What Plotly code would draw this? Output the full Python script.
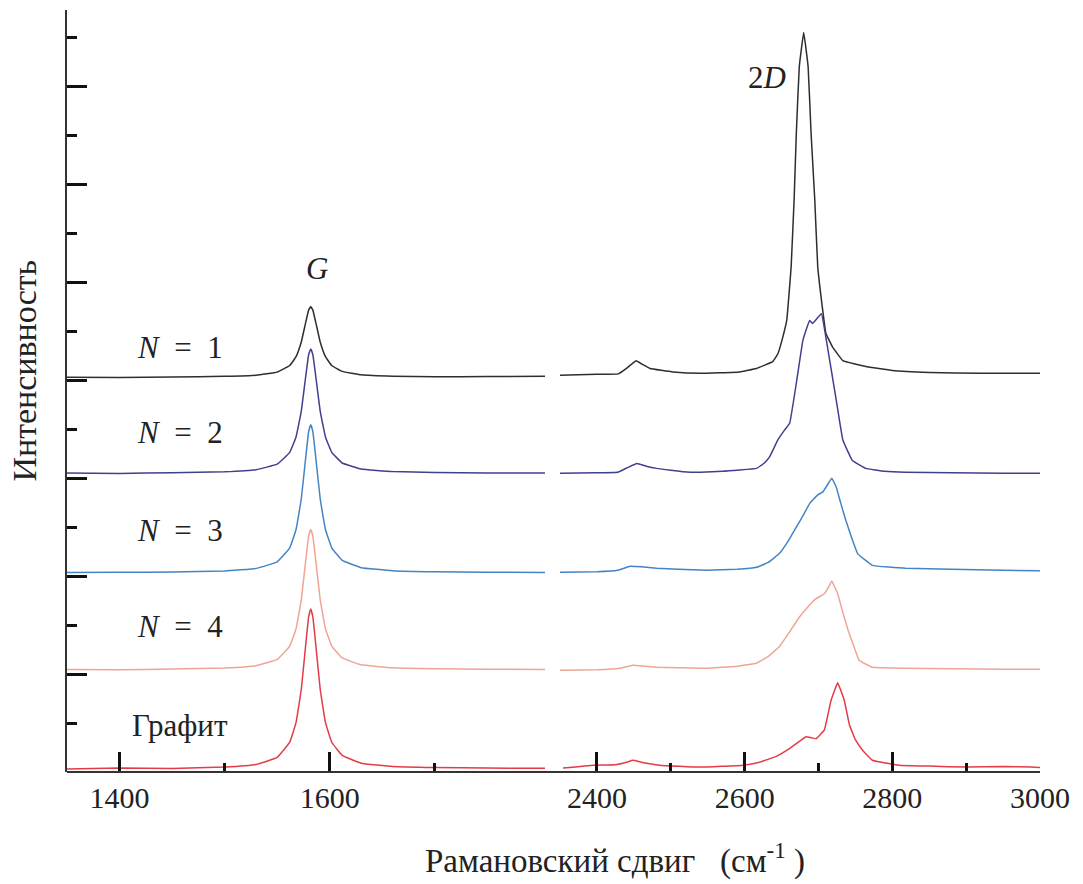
import plotly.graph_objects as go

# ---------------- data ----------------
# Left segment (G band region), shared x grid, cm^-1
x_left = [1350, 1400, 1450, 1500, 1530, 1550, 1562, 1568, 1573, 1577, 1580, 1582,
          1584, 1587, 1591, 1596, 1602, 1612, 1630, 1660, 1700, 1750, 1805]

n1_left = [4.031, 4.028, 4.033, 4.040, 4.051, 4.083, 4.151, 4.240, 4.390, 4.580, 4.716, 4.750,
           4.716, 4.580, 4.390, 4.240, 4.151, 4.090, 4.055, 4.040, 4.035, 4.038, 4.040]
n2_left = [3.052, 3.048, 3.056, 3.065, 3.087, 3.143, 3.263, 3.421, 3.685, 4.020, 4.260, 4.320,
           4.260, 4.020, 3.685, 3.421, 3.263, 3.155, 3.093, 3.067, 3.058, 3.054, 3.052]
n3_left = [2.037, 2.039, 2.042, 2.053, 2.079, 2.145, 2.289, 2.476, 2.790, 3.189, 3.474, 3.545,
           3.474, 3.189, 2.790, 2.476, 2.289, 2.160, 2.086, 2.055, 2.044, 2.040, 2.037]
n4_left = [1.047, 1.044, 1.052, 1.062, 1.086, 1.149, 1.285, 1.463, 1.760, 2.138, 2.408, 2.475,
           2.408, 2.138, 1.760, 1.463, 1.285, 1.164, 1.094, 1.064, 1.054, 1.049, 1.047]
gr_left = [0.030, 0.042, 0.036, 0.050, 0.077, 0.149, 0.304, 0.506, 0.845, 1.275, 1.583, 1.665,
           1.583, 1.275, 0.845, 0.506, 0.304, 0.170, 0.090, 0.056, 0.045, 0.040, 0.038]

# Right segment (2D band region)
n1_right_x = [2350, 2400, 2429, 2440, 2453, 2462, 2472, 2503, 2540, 2593, 2616, 2638, 2645, 2651,
              2657, 2663, 2667, 2670, 2674, 2680, 2686, 2690, 2695, 2699, 2705, 2710, 2719, 2733,
              2764, 2800, 2850, 2920, 3000]
n1_right_y = [4.05, 4.06, 4.065, 4.12, 4.20, 4.16, 4.12, 4.085, 4.07, 4.085, 4.12, 4.19, 4.27, 4.42,
              4.61, 5.16, 5.84, 6.52, 7.20, 7.55, 7.20, 6.52, 5.84, 5.16, 4.76, 4.48, 4.34, 4.20,
              4.14, 4.10, 4.08, 4.07, 4.07]

n2_right_x = [2350, 2400, 2428, 2442, 2454, 2468, 2481, 2500, 2526, 2570, 2616, 2626, 2634, 2645,
              2654, 2661, 2670, 2679, 2688, 2692, 2698, 2704, 2710, 2717, 2724, 2733, 2746, 2764,
              2790, 2818, 2880, 2950, 3000]
n2_right_y = [3.05, 3.055, 3.06, 3.11, 3.15, 3.12, 3.10, 3.08, 3.06, 3.07, 3.10, 3.15, 3.22, 3.39,
              3.49, 3.56, 3.97, 4.41, 4.61, 4.58, 4.63, 4.68, 4.44, 4.12, 3.80, 3.39, 3.18, 3.10,
              3.07, 3.06, 3.055, 3.05, 3.05]

n3_right_x = [2350, 2400, 2428, 2445, 2460, 2481, 2510, 2548, 2590, 2616, 2632, 2647, 2660, 2670,
              2680, 2688, 2699, 2706, 2712, 2718, 2724, 2730, 2737, 2745, 2753, 2773, 2818, 2880,
              2950, 3000]
n3_right_y = [2.04, 2.045, 2.06, 2.10, 2.095, 2.08, 2.07, 2.06, 2.07, 2.09, 2.14, 2.23, 2.37, 2.50,
              2.63, 2.74, 2.83, 2.86, 2.93, 3.00, 2.91, 2.75, 2.57, 2.39, 2.23, 2.11, 2.08, 2.07,
              2.06, 2.055]

n4_right_x = [2350, 2400, 2431, 2449, 2465, 2481, 2510, 2548, 2590, 2616, 2632, 2647, 2660, 2674,
              2685, 2695, 2708, 2713, 2718, 2726, 2733, 2740, 2748, 2755, 2773, 2818, 2880, 2950,
              3000]
n4_right_y = [1.04, 1.045, 1.06, 1.09, 1.08, 1.07, 1.065, 1.06, 1.08, 1.11, 1.18, 1.28, 1.42, 1.58,
              1.68, 1.76, 1.82, 1.88, 1.95, 1.82, 1.63, 1.45, 1.28, 1.14, 1.07, 1.06, 1.055, 1.05,
              1.05]

gr_right_x = [2354, 2395, 2425, 2440, 2449, 2460, 2485, 2539, 2598, 2620, 2643, 2657, 2670, 2683,
              2690, 2697, 2708, 2717, 2726, 2735, 2742, 2750, 2760, 2773, 2809, 2850, 2900, 2950,
              2989, 3000]
gr_right_y = [0.04, 0.07, 0.075, 0.10, 0.12, 0.10, 0.07, 0.05, 0.07, 0.10, 0.16, 0.22, 0.29, 0.36,
              0.35, 0.34, 0.43, 0.73, 0.91, 0.73, 0.48, 0.33, 0.22, 0.12, 0.07, 0.06, 0.05, 0.055,
              0.05, 0.045]

series_names = ["N = 1", "N = 2", "N = 3", "N = 4", "Графит"]
series_colors = ["#2e2e2e", "#40408e", "#4584c4", "#f0a494", "#e33b47"]
label_text = ["<i>N</i>&nbsp; =&nbsp; 1", "<i>N</i>&nbsp; =&nbsp; 2", "<i>N</i>&nbsp; =&nbsp; 3",
              "<i>N</i>&nbsp; =&nbsp; 4", "Графит"]
label_y = [4.33, 3.47, 2.47, 1.49, 0.47]

left_vals = [n1_left, n2_left, n3_left, n4_left, gr_left]
right_xs = [n1_right_x, n2_right_x, n3_right_x, n4_right_x, gr_right_x]
right_ys = [n1_right_y, n2_right_y, n3_right_y, n4_right_y, gr_right_y]

x_major_left = [1400, 1600]
x_minor_left = [1500, 1700]
x_major_right = [2400, 2600, 2800, 3000]
x_minor_right = [2500, 2700, 2900]

FONT = '"Liberation Serif", "DejaVu Serif", "Times New Roman", Times, serif'

fig = go.Figure()
for name, col, yl, xr, yr in zip(series_names, series_colors, left_vals, right_xs, right_ys):
    fig.add_trace(go.Scatter(x=x_left, y=yl, mode="lines", name=name,
                             line=dict(color=col, width=1.5, shape="spline", smoothing=0.3),
                             xaxis="x", yaxis="y", showlegend=False))
    fig.add_trace(go.Scatter(x=xr, y=yr, mode="lines", name=name,
                             line=dict(color=col, width=1.5, shape="spline", smoothing=0.25),
                             xaxis="x2", yaxis="y", showlegend=False))

axis_common = dict(showgrid=False, zeroline=False, showline=False,
                   ticks="inside", ticklen=20, tickwidth=2.5, tickcolor="#111",
                   tickfont=dict(family=FONT, size=30, color="#222"),
                   ticklabelstandoff=5)

fig.update_layout(
    width=1083, height=884,
    paper_bgcolor="white", plot_bgcolor="white",
    font=dict(family=FONT, color="#222"),
    margin=dict(l=67, r=43, t=10, b=112),
    xaxis=dict(domain=[0, 0.4913], range=[1350, 1805], tickmode="array",
               tickvals=x_major_left, ticktext=[str(v) for v in x_major_left],
               minor=dict(tickmode="array", tickvals=x_minor_left, ticks="inside",
                          ticklen=9, tickwidth=2.5, tickcolor="#111"),
               anchor="y", **axis_common),
    xaxis2=dict(domain=[0.5067, 1], range=[2350, 3000], tickmode="array",
                tickvals=x_major_right, ticktext=[str(v) for v in x_major_right],
                minor=dict(tickmode="array", tickvals=x_minor_right, ticks="inside",
                           ticklen=9, tickwidth=2.5, tickcolor="#111"),
                anchor="y", **axis_common),
    yaxis=dict(domain=[0, 1], range=[0, 7.78], showgrid=False, zeroline=False,
               showline=True, linecolor="#333", linewidth=2,
               ticks="inside", ticklen=20, tickwidth=2.5, tickcolor="#111",
               tick0=0, dtick=1, showticklabels=False,
               minor=dict(ticks="inside", ticklen=10, tickwidth=2.5, tickcolor="#111",
                          tick0=0.5, dtick=0.5)),
    shapes=[dict(type="line", xref="paper", yref="paper", x0=0, x1=1, y0=0, y1=0,
                 line=dict(color="#333", width=2))],
)

annotations = []
for txt, yy in zip(label_text, label_y):
    annotations.append(dict(x=1458, y=yy, xref="x", yref="y", text=txt, showarrow=False,
                            font=dict(family=FONT, size=31, color="#222")))
annotations.append(dict(x=1588, y=5.14, xref="x", yref="y", text="<i>G</i>", showarrow=False,
                        font=dict(family=FONT, size=31, color="#222")))
annotations.append(dict(x=2630, y=7.09, xref="x2", yref="y", text="2<i>D</i>", showarrow=False,
                        font=dict(family=FONT, size=31, color="#222")))
annotations.append(dict(x=0.563, y=-0.113, xref="paper", yref="paper",
                        text="Рамановский сдвиг&nbsp;&nbsp; (см<sup>-1</sup> )", showarrow=False,
                        yanchor="middle", font=dict(family=FONT, size=33, color="#222")))
annotations.append(dict(x=-0.044, y=0.527, xref="paper", yref="paper", text="Интенсивность",
                        showarrow=False, textangle=-90, xanchor="center", yanchor="middle",
                        font=dict(family=FONT, size=34, color="#222")))
fig.update_layout(annotations=annotations)

fig.write_html("out.html")
